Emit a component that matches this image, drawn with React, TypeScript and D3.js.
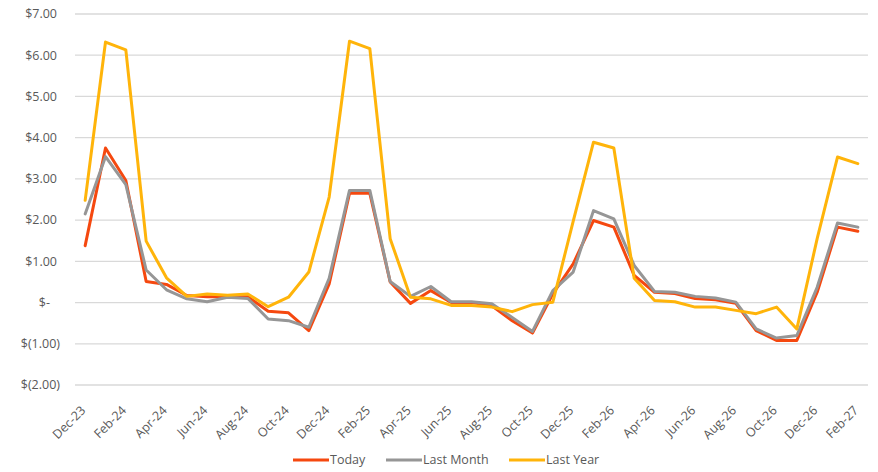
import React from "react";
import * as d3 from "d3";

const categories = [
  "Dec-23","Jan-24","Feb-24","Mar-24","Apr-24","May-24","Jun-24","Jul-24","Aug-24","Sep-24","Oct-24","Nov-24",
  "Dec-24","Jan-25","Feb-25","Mar-25","Apr-25","May-25","Jun-25","Jul-25","Aug-25","Sep-25","Oct-25","Nov-25",
  "Dec-25","Jan-26","Feb-26","Mar-26","Apr-26","May-26","Jun-26","Jul-26","Aug-26","Sep-26","Oct-26","Nov-26",
  "Dec-26","Jan-27","Feb-27",
];

const today = [
  1.38, 3.75, 2.96, 0.51, 0.44, 0.17, 0.14, 0.14, 0.14, -0.21, -0.25, -0.68,
  0.45, 2.65, 2.65, 0.5, -0.02, 0.29, 0.0, 0.0, -0.08, -0.44, -0.74, 0.21,
  0.94, 1.99, 1.83, 0.66, 0.25, 0.22, 0.1, 0.07, -0.02, -0.68, -0.92, -0.92,
  0.25, 1.83, 1.73,
];

const lastMonth = [
  2.15, 3.54, 2.86, 0.79, 0.31, 0.09, 0.02, 0.13, 0.1, -0.4, -0.44, -0.6,
  0.59, 2.72, 2.72, 0.51, 0.15, 0.39, 0.02, 0.02, -0.03, -0.36, -0.7, 0.29,
  0.74, 2.23, 2.03, 0.9, 0.27, 0.25, 0.15, 0.11, 0.01, -0.64, -0.86, -0.8,
  0.37, 1.93, 1.83,
];

const lastYear = [
  2.48, 6.32, 6.13, 1.49, 0.6, 0.15, 0.21, 0.18, 0.21, -0.1, 0.13, 0.74,
  2.56, 6.34, 6.16, 1.55, 0.13, 0.09, -0.07, -0.07, -0.11, -0.22, -0.05, 0.01,
  1.97, 3.89, 3.75, 0.59, 0.05, 0.02, -0.11, -0.11, -0.19, -0.27, -0.11, -0.64,
  1.55, 3.53, 3.37,
];

const yTicks = [7, 6, 5, 4, 3, 2, 1, 0, -1, -2];

const seriesNames = ["Today", "Last Month", "Last Year"];
const seriesColors = ["#F5480F", "#969696", "#FFB40A"];

const fontFamily = "'Open Sans', 'Noto Sans', sans-serif";

function fmt(v: number): string {
  if (v === 0) return "$-";
  if (v < 0) return `$(${Math.abs(v).toFixed(2)})`;
  return `$${v.toFixed(2)}`;
}

export default function App() {
  const W = 878;
  const H = 472;
  const x = d3.scaleBand<string>().domain(categories).range([75, 868]).padding(0);
  const y = d3.scaleLinear().domain([-2, 7]).range([385, 14]);
  const cx = (c: string) => (x(c) as number) + x.bandwidth() / 2;

  const line = d3
    .line<number>()
    .x((_, i) => cx(categories[i]))
    .y((d) => y(d));

  const series = [today, lastMonth, lastYear];

  const legendItems = [
    { name: seriesNames[0], color: seriesColors[0], x: 293 },
    { name: seriesNames[1], color: seriesColors[1], x: 386 },
    { name: seriesNames[2], color: seriesColors[2], x: 509 },
  ];

  return (
    <svg width={W} height={H} style={{ position: "absolute", left: 0, top: 0, background: "#fff" }}>
      <rect width={W} height={H} fill="#fff" />
      {yTicks.map((t) => (
        <g key={t}>
          <line x1={75} x2={868} y1={y(t)} y2={y(t)} stroke="#d9d9d9" strokeWidth={1.3} />
          <text
            x={t === 0 ? 50 : t < 0 ? 60 : 57}
            y={y(t)}
            dy="0.35em"
            textAnchor="end"
            fontFamily={fontFamily}
            fontSize={12.5}
            fill="#595959"
          >
            {fmt(t)}
          </text>
        </g>
      ))}
      {categories.map((c, i) =>
        i % 2 === 0 ? (
          <text
            key={c}
            transform={`translate(${cx(c) - 5},${405}) rotate(-45)`}
            textAnchor="end"
            dy="0.7em"
            fontFamily={fontFamily}
            fontSize={12.5}
            fill="#595959"
          >
            {c}
          </text>
        ) : null
      )}
      {series.map((s, i) => (
        <path
          key={seriesNames[i]}
          d={line(s) as string}
          fill="none"
          stroke={seriesColors[i]}
          strokeWidth={3}
          strokeLinejoin="round"
          strokeLinecap="round"
        />
      ))}
      {legendItems.map((l) => (
        <g key={l.name}>
          <line x1={l.x} x2={l.x + 36} y1={460} y2={460} stroke={l.color} strokeWidth={3} />
          <text
            x={l.x + 37}
            y={460}
            dy="0.35em"
            fontFamily={fontFamily}
            fontSize={12.5}
            fill="#595959"
          >
            {l.name}
          </text>
        </g>
      ))}
    </svg>
  );
}
